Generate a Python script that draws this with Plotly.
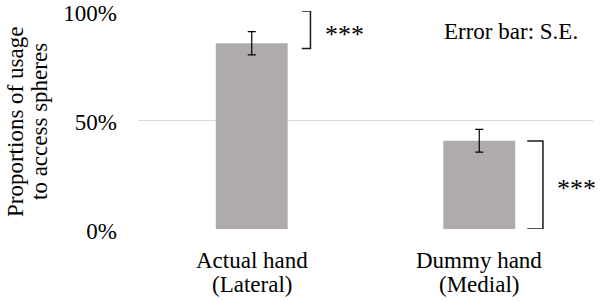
import plotly.graph_objects as go

category_names = ["Actual hand", "Dummy hand"]
category_sublabels = ["(Lateral)", "(Medial)"]
proportions = [85.2, 40.5]
std_errors = [5.3, 5.2]
y_ticks = [0, 50, 100]
y_tick_labels = ["0%", "50%", "100%"]
sig_labels = ["***", "***"]
y_title_lines = ["Proportions of usage", "to access spheres"]

FONT = "'Liberation Serif', 'Times New Roman', Times, serif"
FS = 23
PLOT_L, PLOT_R, PLOT_T, PLOT_B = 138, 593, 11, 229


def px_x(p):
    return (p - PLOT_L) / (PLOT_R - PLOT_L)


def px_y(p):
    return (PLOT_B - p) / (PLOT_B - PLOT_T)


fig = go.Figure()
xs = list(range(len(proportions)))
fig.add_trace(go.Bar(
    x=xs, y=proportions,
    marker=dict(color="#AFABAB", line=dict(width=0)),
    width=0.316,
    error_y=dict(type="data", array=std_errors, visible=True,
                 color="#000000", thickness=1.2, width=4),
    showlegend=False,
))

line_style = dict(color="#1a1a1a", width=1.5)
fig.add_shape(type="path", xref="x", yref="y",
              path="M 0.22,100 L 0.258,100 L 0.258,82.8 L 0.22,82.8",
              line=line_style)
fig.add_shape(type="path", xref="x", yref="y",
              path="M 1.211,40.4 L 1.28,40.4 L 1.28,0 L 1.211,0",
              line=line_style)

fig.add_annotation(x=0.314, y=89.2, xref="x", yref="y", text=sig_labels[0],
                   showarrow=False, xanchor="left", yanchor="middle",
                   font=dict(family=FONT, size=26, color="#000"))
fig.add_annotation(x=1.331, y=18.7, xref="x", yref="y", text=sig_labels[1],
                   showarrow=False, xanchor="left", yanchor="middle",
                   font=dict(family=FONT, size=26, color="#000"))
fig.add_annotation(x=1.14, y=90.5, xref="x", yref="y", text="Error bar: S.E.",
                   showarrow=False, xanchor="center", yanchor="middle",
                   font=dict(family=FONT, size=FS, color="#000"))

for i, (name, sub) in enumerate(zip(category_names, category_sublabels)):
    fig.add_annotation(x=i, y=px_y(260), xref="x", yref="paper", text=name,
                       showarrow=False, xanchor="center", yanchor="middle",
                       font=dict(family=FONT, size=FS, color="#000"))
    fig.add_annotation(x=i, y=px_y(284), xref="x", yref="paper", text=sub,
                       showarrow=False, xanchor="center", yanchor="middle",
                       font=dict(family=FONT, size=FS, color="#000"))

for line, cx in zip(y_title_lines, [16, 40]):
    fig.add_annotation(x=px_x(cx), y=px_y(122), xref="paper", yref="paper",
                       text=line, textangle=-90, showarrow=False,
                       xanchor="center", yanchor="middle",
                       font=dict(family=FONT, size=FS, color="#000"))

fig.update_layout(
    width=600, height=302,
    margin=dict(l=PLOT_L, r=600 - PLOT_R, t=PLOT_T, b=302 - PLOT_B,
                autoexpand=False),
    paper_bgcolor="white", plot_bgcolor="white",
    font=dict(family=FONT, size=FS, color="#000"),
    xaxis=dict(range=[-0.5, 1.5], tickmode="array", tickvals=xs,
               showticklabels=False, showgrid=False, zeroline=False,
               showline=False, ticks="", automargin=False),
    yaxis=dict(range=[0, 100], tickmode="array", tickvals=y_ticks,
               ticktext=y_tick_labels, showgrid=True, gridcolor="#D9D9D9",
               gridwidth=1, zeroline=False, showline=False, ticks="",
               ticklabelstandoff=20, tickfont=dict(size=FS),
               ticklabelshift=2,
               ticklabeloverflow="allow", automargin=False),
)
fig.write_html("out.html", config={"displayModeBar": False},
               post_script="document.body.style.margin='0px';")
